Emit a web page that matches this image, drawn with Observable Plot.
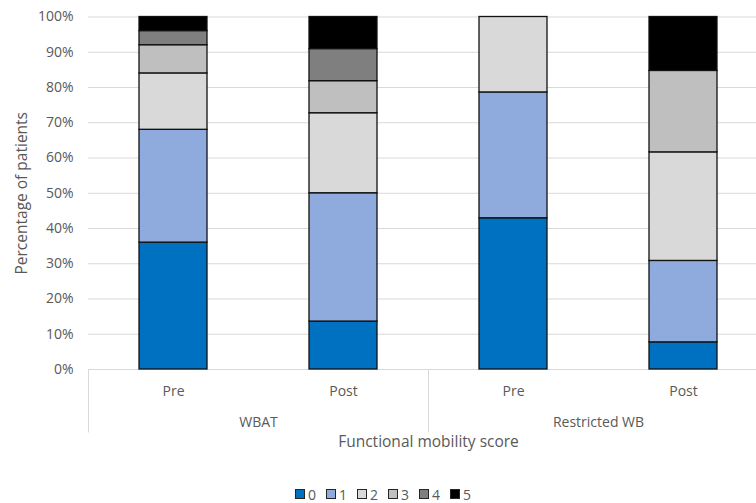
<!DOCTYPE html>
<html><head><meta charset="utf-8">
<script src="https://cdn.jsdelivr.net/npm/d3@7"></script>
<script src="https://cdn.jsdelivr.net/npm/@observablehq/plot@0.6"></script>
<style>
body{margin:0;background:#fff;font-family:"Open Sans",sans-serif;color:#595959;}
#chart{width:756px;overflow:hidden;}
.legend{display:flex;justify-content:center;align-items:center;padding-left:10px;padding-top:14px;height:20px;font-size:14px;color:#595959;}
.item{display:flex;align-items:center;margin:0 5px;}
.sw{width:8px;height:8px;border:1px solid #262626;margin-right:3px;}
</style></head><body><div id="chart"></div><script>
const groups = ["WBAT", "WBAT", "Restricted WB", "Restricted WB"];
const phases = ["Pre", "Post", "Pre", "Post"];
const scores = ["0", "1", "2", "3", "4", "5"];
const colors = ["#0070C0", "#8FAADC", "#D9D9D9", "#BFBFBF", "#7F7F7F", "#000000"];
const score0 = [36.0, 13.6, 42.9, 7.7];
const score1 = [32.0, 36.4, 35.7, 23.1];
const score2 = [16.0, 22.7, 21.4, 30.8];
const score3 = [8.0, 9.1, 0, 23.1];
const score4 = [4.0, 9.1, 0, 0];
const score5 = [4.0, 9.1, 0, 15.3];
const yTicks = [0, 10, 20, 30, 40, 50, 60, 70, 80, 90, 100];
const groupNames = ["WBAT", "Restricted WB"];
const xTitle = "Functional mobility score";
const yTitle = "Percentage of patients";

const series = [score0, score1, score2, score3, score4, score5];
const keys = groups.map((g, i) => g + "|" + phases[i]);
const rows = [];
scores.forEach((s, j) => series[j].forEach((v, i) => {
  if (v > 0) rows.push({key: keys[i], score: s, value: v});
}));
const groupFirst = groupNames.map(g => keys[groups.indexOf(g)]);
const groupSecond = groupNames.map(g => keys[groups.indexOf(g) + 1]);

const plot = Plot.plot({
  width: 756, height: 470,
  marginTop: 16.5, marginLeft: 88, marginRight: -12, marginBottom: 101,
  style: {fontFamily: "Open Sans, sans-serif", fontSize: "14px", color: "#595959", background: "white"},
  x: {type: "band", domain: keys, paddingInner: 0.6, paddingOuter: 0.3, axis: null},
  y: {domain: [0, 100], axis: null},
  color: {domain: scores, range: colors},
  marks: [
    Plot.gridY(yTicks, {stroke: "#d9d9d9", strokeOpacity: 1, strokeWidth: 1}),
    Plot.axisY(yTicks, {tickSize: 0, tickPadding: 15, tickFormat: d => d + "%", label: null, fontSize: 14}),
    Plot.barY(rows, {x: "key", y: "value", fill: "score", stroke: "#111", strokeWidth: 1.3}),
    Plot.ruleX(groupFirst, {x: d => d, dx: -85, y1: 0, y2: -18, stroke: "#d9d9d9", strokeWidth: 1}),
    Plot.text(keys, {x: d => d, y: -6.2, text: (d, i) => phases[i], fontSize: 14}),
    Plot.text(groupNames, {x: (d, i) => groupSecond[i], dx: -85, y: -15, text: d => d, fontSize: 14}),
    Plot.text([xTitle], {frameAnchor: "bottom", y: -22, text: d => d, fontSize: 15.5}),
    Plot.text([yTitle], {frameAnchor: "left", dx: -66, rotate: -90, textAnchor: "middle", text: d => d, fontSize: 15.5})
  ]
});
document.getElementById("chart").appendChild(plot);

const legend = document.createElement("div");
legend.className = "legend";
scores.forEach((s, i) => {
  const it = document.createElement("div");
  it.className = "item";
  const sw = document.createElement("div");
  sw.className = "sw";
  sw.style.background = colors[i];
  const t = document.createElement("span");
  t.textContent = s;
  it.appendChild(sw); it.appendChild(t);
  legend.appendChild(it);
});
document.body.appendChild(legend);
</script></body></html>
